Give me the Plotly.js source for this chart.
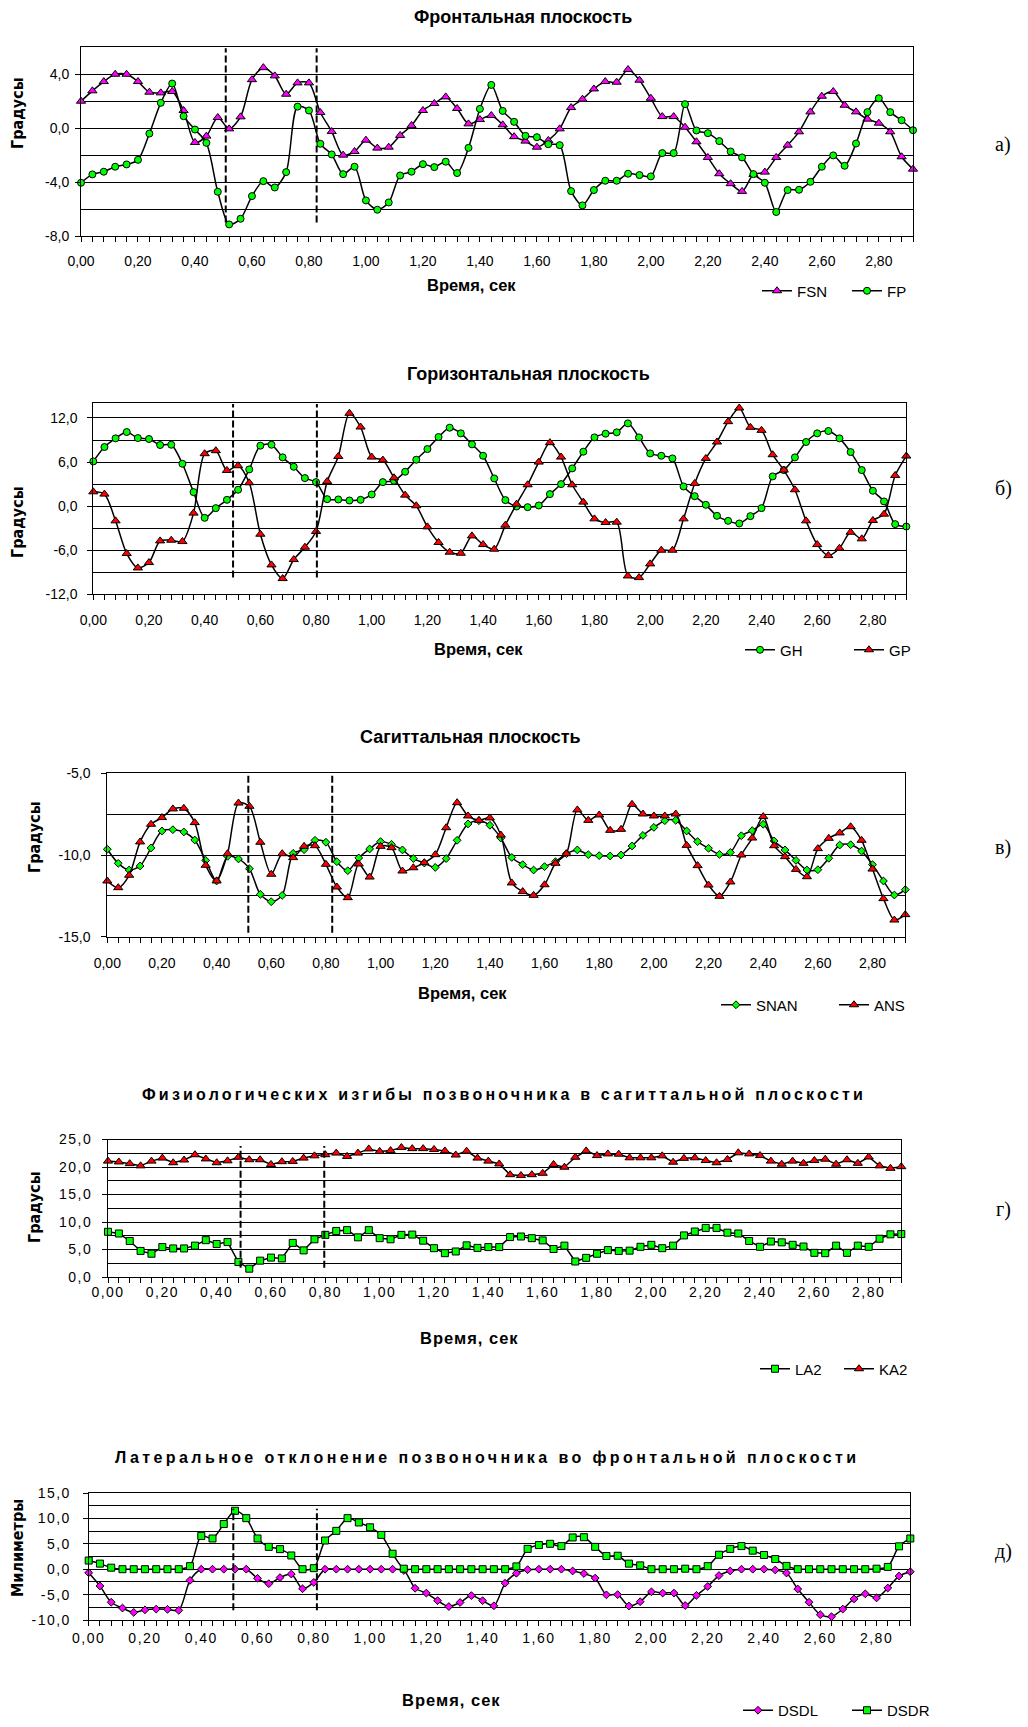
<!DOCTYPE html>
<html><head><meta charset="utf-8">
<script src="https://cdn.plot.ly/plotly-3.0.1.min.js"></script>
<style>
html,body{margin:0;padding:0;background:#fff;}
#chart{width:1028px;height:1727px;}
.x4tick text,.y4tick text,.x5tick text,.y5tick text{letter-spacing:1.5px;}
</style></head><body><div id="chart"></div><script>
// ---------- data ----------
const time = [0,0.04,0.08,0.12,0.16,0.2,0.24,0.28,0.32,0.36,0.4,0.44,0.48,0.52,0.56,0.6,0.64,0.68,0.72,0.76,0.8,0.84,0.88,0.92,0.96,1.0,1.04,1.08,1.12,1.16,1.2,1.24,1.28,1.32,1.36,1.4,1.44,1.48,1.52,1.56,1.6,1.64,1.68,1.72,1.76,1.8,1.84,1.88,1.92,1.96,2.0,2.04,2.08,2.12,2.16,2.2,2.24,2.28,2.32,2.36,2.4,2.44,2.48,2.52,2.56,2.6,2.64,2.68,2.72,2.76,2.8,2.84,2.88,2.92];
const xTickVals = [0,0.2,0.4,0.6,0.8,1.0,1.2,1.4,1.6,1.8,2.0,2.2,2.4,2.6,2.8];
const xTickText = ['0,00','0,20','0,40','0,60','0,80','1,00','1,20','1,40','1,60','1,80','2,00','2,20','2,40','2,60','2,80'];

const fsn = [2.0,2.77,3.46,4.0,4.0,3.46,2.67,2.62,2.72,1.31,-1.06,-0.59,0.79,-0.05,0.84,3.6,4.49,3.88,2.52,3.36,3.36,1.16,-0.25,-2.0,-1.73,-0.89,-1.48,-1.41,-0.54,0.2,1.31,1.83,2.32,1.46,0.32,0.64,0.94,0.25,-0.63,-0.96,-1.41,-0.91,-0.05,1.53,2.15,2.91,3.46,3.41,4.35,3.56,2.22,0.86,0.86,0.07,-1.01,-2.17,-3.38,-4.12,-4.69,-3.43,-3.26,-2.17,-1.26,-0.27,1.21,2.37,2.72,1.7,1.21,0.67,0.37,-0.27,-2.12,-3.04];
const fp = [-4.05,-3.43,-3.23,-2.86,-2.69,-2.35,-0.4,1.88,3.31,0.89,-0.1,-1.09,-4.72,-7.14,-6.72,-5.04,-3.93,-4.4,-3.26,1.6,1.31,-1.16,-1.95,-3.41,-2.86,-5.36,-6.05,-5.51,-3.51,-3.23,-2.67,-2.89,-2.49,-3.33,-1.46,1.43,3.21,1.28,0.47,-0.57,-0.67,-1.19,-1.26,-4.67,-5.73,-4.59,-3.9,-3.9,-3.38,-3.48,-3.58,-1.85,-1.85,1.78,-0.17,-0.37,-0.96,-1.73,-2.17,-3.41,-4.05,-6.22,-4.59,-4.57,-3.98,-2.86,-2.02,-2.79,-1.14,1.19,2.22,1.19,0.59,-0.15];
const gh = [6.09,8.05,9.23,10.09,9.27,9.14,8.32,8.36,5.77,1.91,-1.59,-0.27,0.86,2.23,5.0,8.23,8.36,6.64,5.36,3.82,3.27,0.95,0.91,0.77,0.86,1.59,3.27,3.45,4.68,6.32,7.77,9.41,10.68,9.91,8.41,6.86,3.77,0.82,-0.05,-0.14,0.09,1.64,3.0,5.14,7.41,9.36,9.86,10.05,11.27,9.36,7.18,6.86,6.5,2.68,1.36,0.18,-1.32,-2.0,-2.36,-1.36,-0.27,4.05,4.91,6.64,8.73,9.91,10.23,9.23,7.36,4.91,2.09,0.64,-2.45,-2.77];
const gp = [1.95,1.64,-2.0,-6.45,-8.41,-7.68,-4.73,-4.64,-4.82,-0.95,7.14,7.55,4.86,5.5,3.18,-3.82,-8.0,-9.86,-7.27,-5.59,-3.45,3.36,6.77,12.64,10.77,6.68,6.27,3.86,1.5,0.05,-2.82,-4.95,-6.27,-6.41,-4.05,-5.23,-5.86,-2.59,0.27,2.91,6.0,8.64,6.68,2.91,0.55,-1.73,-2.23,-2.18,-9.5,-9.73,-7.86,-6.0,-6.0,-1.73,3.09,6.5,8.73,11.5,13.36,10.73,10.32,7.0,4.91,2.23,-2.0,-5.23,-6.73,-5.73,-3.55,-4.45,-1.95,-1.09,4.18,6.82];
const snan = [-9.65,-10.51,-10.92,-10.67,-9.57,-8.53,-8.45,-8.59,-9.08,-10.33,-11.59,-10.08,-10.24,-10.84,-12.41,-12.86,-12.47,-9.9,-9.67,-9.1,-9.22,-10.41,-10.96,-10.18,-9.63,-9.18,-9.35,-9.69,-10.22,-10.49,-10.76,-10.22,-9.1,-8.1,-7.9,-8.18,-8.96,-10.15,-10.59,-10.92,-10.71,-10.41,-9.92,-9.69,-9.98,-10.04,-10.06,-10.0,-9.45,-8.8,-8.31,-7.9,-7.88,-8.53,-9.18,-9.59,-9.96,-9.84,-8.82,-8.51,-8.12,-9.14,-9.69,-10.33,-10.92,-10.9,-10.2,-9.39,-9.37,-9.76,-10.59,-11.59,-12.45,-12.12];
const ans = [-11.59,-12.0,-11.24,-9.2,-8.12,-7.71,-7.18,-7.14,-8.02,-10.63,-11.59,-9.92,-6.82,-7.02,-9.22,-11.18,-9.92,-10.16,-9.47,-9.43,-10.57,-11.96,-12.61,-10.55,-11.35,-9.47,-9.55,-10.98,-10.78,-10.47,-9.98,-8.33,-6.8,-7.61,-7.88,-7.73,-8.78,-11.71,-12.24,-12.47,-11.82,-10.51,-9.92,-7.24,-7.88,-7.55,-8.49,-8.43,-6.9,-7.49,-7.61,-7.61,-7.49,-9.41,-10.65,-11.84,-12.53,-11.65,-10.0,-8.96,-7.65,-9.43,-10.1,-10.88,-11.33,-9.61,-8.98,-8.65,-8.27,-9.1,-10.86,-12.67,-13.98,-13.65];
const la2 = [8.22,7.91,6.55,4.74,4.23,5.44,5.19,5.19,5.7,6.7,6.0,6.35,2.72,1.51,2.97,3.53,3.38,6.2,4.84,6.85,7.66,8.37,8.52,7.21,8.52,7.06,6.85,7.66,7.71,6.6,5.24,4.33,4.64,5.75,5.29,5.44,5.44,7.26,7.36,7.06,6.65,5.09,5.7,2.82,3.48,4.23,4.89,4.74,4.79,5.49,5.85,5.24,5.7,7.56,8.27,8.92,8.92,8.06,7.91,6.55,5.49,6.45,6.3,5.85,5.54,4.39,4.33,5.7,4.39,5.7,5.49,6.96,7.76,7.81];
const ka2 = [21.07,20.92,20.61,20.21,21.07,21.62,20.77,21.27,22.23,21.47,20.77,21.12,21.77,21.32,21.32,20.46,20.97,21.02,21.62,22.03,22.23,22.53,21.93,22.53,23.29,22.83,22.98,23.54,23.34,23.34,23.19,22.93,22.18,22.88,21.62,21.07,20.56,18.6,18.45,18.6,18.85,20.46,19.96,21.77,22.93,22.08,22.38,22.33,21.67,21.67,21.67,22.03,20.87,21.57,21.67,21.17,20.77,21.37,22.58,22.38,22.08,21.07,20.51,21.07,20.67,21.17,21.42,20.51,21.32,20.67,21.82,20.21,19.76,20.06];
const dsdl = [-0.7,-3.3,-6.5,-7.65,-8.5,-8.0,-7.85,-7.9,-8.1,-2.2,0,0,0,0,0,-1.8,-2.85,-1.65,-0.95,-3.85,-2.6,0,0,0,0,0,0,0,-0.25,-3.75,-4.7,-6.2,-7.35,-6.55,-5.2,-6.2,-7.2,-2.75,-0.8,-0.1,0,0,0,-0.35,-0.85,-1.75,-5.05,-5.0,-7.25,-6.4,-4.45,-4.7,-4.7,-7.15,-5.15,-3.4,-1.25,-0.35,0,0,0,-0.15,-0.75,-3.9,-6.5,-8.95,-9.35,-7.85,-5.85,-4.85,-5.65,-3.7,-1.35,-0.5];
const dsdr = [1.7,1.1,0.3,0,0,0,0,0,0,0.6,6.55,6.05,8.9,11.5,10.05,6.05,4.4,3.95,2.7,0,0.2,5.65,7.55,10.05,9.2,8.25,6.75,3.05,0.1,0,0,0,0,0,0,0,0,0,0.55,4.0,4.75,5.0,4.55,6.25,6.3,4.4,2.6,2.65,1.1,0.75,0,0,0,0.1,0,0.6,2.85,4.0,4.55,3.65,2.8,2.0,0.65,0,0,0,0,0,0,0,0.1,0.45,4.5,6.05];

const yValsA = [-8,-4,0,4],            yTextA = ['-8,0','-4,0','0,0','4,0'];
const yValsB = [-12,-6,0,6,12],        yTextB = ['-12,0','-6,0','0,0','6,0','12,0'];
const yValsC = [-15,-10,-5],           yTextC = ['-15,0','-10,0','-5,0'];
const yValsD = [0,5,10,15,20,25],      yTextD = ['0,0','5,0','10,0','15,0','20,0','25,0'];
const yValsE = [-10,-5,0,5,10,15],     yTextE = ['-10,0','-5,0','0,0','5,0','10,0','15,0'];

// phase markers (dashed verticals): times and vertical span
const dashTimesA = [0.508,0.827], dashSpanA = [-6.99,5.93];
const dashTimesB = [0.502,0.803], dashSpanB = [-9.73,13.9];
const dashTimesC = [0.516,0.823], dashSpanC = [-14.76,-4.86];
const dashTimesD = [0.488,0.796], dashSpanD = [1.66,23.84];
const dashTimesE = [0.514,0.811], dashSpanE = [-8.1,11.9];

const chartTitles = ['Фронтальная плоскость','Горизонтальная плоскость','Сагиттальная плоскость',
  'Физиологических изгибы позвоночника в сагиттальной плоскости',
  'Латеральное отклонение позвоночника во фронтальной плоскости'];
const yTitles = ['Градусы','Градусы','Градусы','Градусы','Милиметры'];
const xTitle = 'Время, сек';
const panelLabels = ['а)','б)','в)','г)','д)'];

// ---------- layout ----------
const W = 1028, H = 1727;
const px = x => x / W, py = y => 1 - y / H;
const FONT = '"Liberation Sans", Arial, sans-serif';
const NARROW = '"Liberation Sans Narrow", "Arial Narrow", "DejaVu Sans Condensed", sans-serif';
const SERIF = '"Liberation Serif", "Times New Roman", serif';

const MK = {
  triM: {symbol:'triangle-up', size:8, color:'#FF00FF', line:{color:'#000', width:1}},
  triR: {symbol:'triangle-up', size:8, color:'#FF0000', line:{color:'#000', width:1}},
  cirG: {symbol:'circle', size:7, color:'#00FF00', line:{color:'#000', width:1}},
  diaG: {symbol:'diamond', size:6, color:'#00FF00', line:{color:'#000', width:1}},
  diaM: {symbol:'diamond', size:6, color:'#FF00FF', line:{color:'#000', width:1}},
  sqG:  {symbol:'square', size:7, color:'#00FF00', line:{color:'#000', width:1}}
};

const panels = [
  {box:[81,913,47.3,236], range:[-8,6], yv:yValsA, yt:yTextA, minor:2, ystand:3, xstand:7,
   series:[{y:fsn,name:'FSN',mk:MK.triM},{y:fp,name:'FP',mk:MK.cirG}], shape:'spline',
   dash:dashTimesA, span:dashSpanA,
   title:[523,17,18,0], xt:[471,285,16.5,0], yti:[17,113], lab:145,
   leg:{x:757, y:291, anchor:'middle', ew:45}},
  {box:[93.3,906.3,403.3,594.3], range:[-12,14], yv:yValsB, yt:yTextB, minor:3, ystand:7, xstand:8,
   series:[{y:gh,name:'GH',mk:MK.cirG},{y:gp,name:'GP',mk:MK.triR}], shape:'spline',
   dash:dashTimesB, span:dashSpanB,
   title:[528,374,18,0], xt:[478,649,16.5,0], yti:[17,522], lab:488,
   leg:{x:740, y:650, anchor:'middle', ew:64}},
  {box:[107.3,905.3,773.3,936.7], range:[-15,-5], yv:yValsC, yt:yTextC, minor:2.5, ystand:8, xstand:8,
   series:[{y:snan,name:'SNAN',mk:MK.diaG},{y:ans,name:'ANS',mk:MK.triR}], shape:'spline',
   dash:dashTimesC, span:dashSpanC,
   title:[470,737,18,0], xt:[462,993,16.5,0], yti:[34,837], lab:847,
   leg:{x:716, y:1005, anchor:'middle', ew:73}},
  {box:[108,901.3,1139.5,1277], range:[0,25], yv:yValsD, yt:yTextD, minor:2.5, ystand:7, xstand:-3,
   series:[{y:la2,name:'LA2',mk:MK.sqG},{y:ka2,name:'KA2',mk:MK.triR}], shape:'linear',
   dash:dashTimesD, span:dashSpanD,
   title:[504,1094.5,16,3.2], xt:[469,1338,16.5,1], yti:[34,1207], lab:1209,
   leg:{x:755, y:1369, anchor:'middle', ew:39}},
  {box:[88.7,910.3,1493,1620], range:[-10,15], yv:yValsE, yt:yTextE, minor:2.5, ystand:9, xstand:0,
   series:[{y:dsdl,name:'DSDL',mk:MK.diaM},{y:dsdr,name:'DSDR',mk:MK.sqG}], shape:'spline',
   dash:dashTimesE, span:dashSpanE,
   title:[487,1457.5,16,3.4], xt:[451,1700,16.5,1], yti:[17,1548], lab:1551,
   leg:{x:738, y:1727, anchor:'bottom', ew:64}}
];

const layout = {
  width:W, height:H, margin:{l:0,r:0,t:0,b:0},
  paper_bgcolor:'#fff', plot_bgcolor:'#fff',
  font:{family:FONT, size:14, color:'#000'},
  showlegend:true, annotations:[], shapes:[]
};
const traces = [];
const spacing = {};

panels.forEach((p, i) => {
  const n = i === 0 ? '' : String(i + 1);
  layout['xaxis' + n] = {
    domain:[px(p.box[0]), px(p.box[1])], anchor:'y' + n, range:[0, 2.92],
    tickmode:'array', tickvals:xTickVals, ticktext:xTickText,
    ticks:'outside', ticklen:5, tickwidth:1, tickcolor:'#000',
    showline:true, linecolor:'#000', linewidth:1, mirror:true,
    showgrid:false, zeroline:false, ticklabelstandoff:p.xstand,
    tickfont:{family:FONT, size:14, color:'#000'},
    minor:{tickmode:'linear', tick0:0, dtick:0.04, ticks:'outside', ticklen:5, tickwidth:1, tickcolor:'#000', showgrid:false}
  };
  layout['yaxis' + n] = {
    domain:[py(p.box[3]), py(p.box[2])], anchor:'x' + n, range:p.range,
    tickmode:'array', tickvals:p.yv, ticktext:p.yt,
    ticks:'outside', ticklen:5, tickwidth:1, tickcolor:'#000',
    showline:true, linecolor:'#000', linewidth:1, mirror:true,
    showgrid:true, gridcolor:'#000', gridwidth:1, zeroline:false,
    ticklabelstandoff:p.ystand,
    tickfont:{family:FONT, size:14, color:'#000'},
    minor:{tickmode:'linear', tick0:p.range[0], dtick:p.minor, showgrid:true, gridcolor:'#000', gridwidth:1, ticks:''}
  };
  const legKey = 'legend' + n;
  layout[legKey] = {
    orientation:'h', x:px(p.leg.x), y:py(p.leg.y), xanchor:'left', yanchor:p.leg.anchor,
    bgcolor:'rgba(0,0,0,0)', font:{family:FONT, size:15, color:'#000'},
    entrywidth:p.leg.ew, entrywidthmode:'pixels', itemwidth:30, traceorder:'normal'
  };
  p.series.forEach(s => {
    traces.push({
      x:time, y:s.y, name:s.name, xaxis:'x' + n, yaxis:'y' + n, legend:legKey,
      mode:'lines+markers', cliponaxis:false,
      line:{color:'#000', width:1.5, shape:p.shape, smoothing:0.8},
      marker:s.mk
    });
  });
  p.dash.forEach(t => {
    layout.shapes.push({type:'line', xref:'x' + n, yref:'y' + n, x0:t, x1:t, y0:p.span[0], y1:p.span[1],
      line:{color:'#000', width:2, dash:'7px,3px'}, layer:'above'});
  });
  // chart title
  layout.annotations.push({text:chartTitles[i], xref:'paper', yref:'paper', x:px(p.title[0]), y:py(p.title[1]),
    xanchor:'center', yanchor:'middle', showarrow:false, font:{family:FONT, size:p.title[2], color:'#000', weight:'bold'}});
  if (p.title[3]) spacing[chartTitles[i]] = p.title[3];
  // x axis title
  const xtText = xTitle + (p.xt[3] ? '\u200b'.repeat(i) : '');
  layout.annotations.push({text:xtText, xref:'paper', yref:'paper', x:px(p.xt[0]), y:py(p.xt[1]),
    xanchor:'center', yanchor:'middle', showarrow:false, font:{family:FONT, size:p.xt[2], color:'#000', weight:'bold'}});
  if (p.xt[3]) spacing[xtText] = p.xt[3];
  // y axis title
  layout.annotations.push({text:yTitles[i], xref:'paper', yref:'paper', x:px(p.yti[0]), y:py(p.yti[1]),
    xanchor:'center', yanchor:'middle', textangle:-90, showarrow:false, font:{family:NARROW, size:16, color:'#000', weight:'bold'}});
  // panel label
  layout.annotations.push({text:panelLabels[i], xref:'paper', yref:'paper', x:px(1003), y:py(p.lab),
    xanchor:'center', yanchor:'middle', showarrow:false, font:{family:SERIF, size:20, color:'#000'}});
});

Plotly.newPlot('chart', traces, layout, {staticPlot:true, displayModeBar:false}).then(gd => {
  gd.querySelectorAll('.annotation-text').forEach(t => {
    const s = spacing[t.textContent];
    if (s) t.style.letterSpacing = s + 'px';
  });
});
</script></body></html>
